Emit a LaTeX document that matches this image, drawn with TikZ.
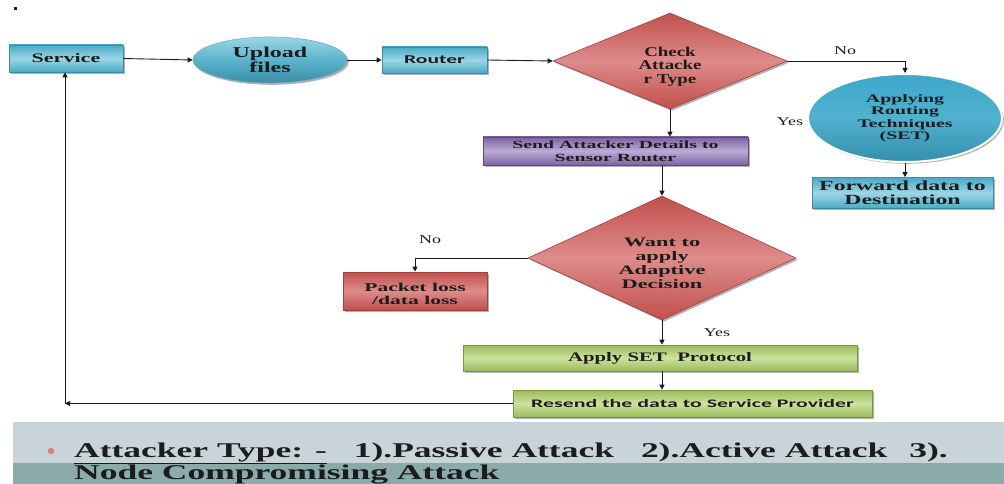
\documentclass[tikz,border=0pt]{standalone}
\usepackage{fontspec}
\setmainfont{Liberation Serif}
\newfontfamily\carl{Carlito}
\usetikzlibrary{shapes.geometric,shadows,arrows.meta,calc}
\definecolor{blueEdge}{HTML}{4AAAC5}
\definecolor{blueMid}{HTML}{9CD5E6}
\definecolor{blueDraw}{HTML}{3B8EA8}
\definecolor{appFill}{HTML}{3DA8CA}
\definecolor{redEdge}{HTML}{C0504D}
\definecolor{redMid}{HTML}{DE8C8A}
\definecolor{redDraw}{HTML}{A13F3C}
\definecolor{purEdge}{HTML}{7E62A3}
\definecolor{purMid}{HTML}{BBAAD6}
\definecolor{purDraw}{HTML}{5E4683}
\definecolor{grnEdge}{HTML}{9ABB58}
\definecolor{grnMid}{HTML}{CDE2A0}
\definecolor{grnDraw}{HTML}{7A963E}
\definecolor{bandA}{HTML}{C9D4D9}
\definecolor{bandB}{HTML}{8BABAA}
\definecolor{bulletC}{HTML}{D9807C}
\definecolor{ink}{HTML}{1C1C1C}
\newcommand\fx[3]{\fontsize{#1}{#2}\selectfont\addfontfeatures{FakeStretch=#3}}
\tikzset{
  shadowed/.style={drop shadow={shadow xshift=1.8pt,shadow yshift=-1.8pt,fill=black!60,opacity=0.5}},
  base/.style={inner sep=0pt, align=center, text=ink, line width=0.6pt, shadowed},
  bluebox/.style={base, rectangle, draw=blueDraw, top color=blueEdge, bottom color=blueEdge, middle color=blueMid},
  redbox/.style={base, rectangle, draw=redDraw, top color=redEdge, bottom color=redEdge, middle color=redMid},
  purbox/.style={base, rectangle, draw=purDraw, top color=purEdge, bottom color=purEdge, middle color=purMid},
  grnbox/.style={base, rectangle, draw=grnDraw, top color=grnEdge, bottom color=grnEdge, middle color=grnMid},
  reddiam/.style={base, diamond, aspect=2.2, draw=redDraw, top color=redEdge, bottom color=redEdge, middle color=redMid},
  arr/.style={draw=ink, line width=0.9pt, -{Triangle[length=5pt,width=5pt]}},
  lbl/.style={inner sep=0pt, text=ink, font=\fx{12}{13}{1.5}},
}
\begin{document}
\begin{tikzpicture}[x=1pt,y=-1pt]
\useasboundingbox (0,0) rectangle (1004,484);
\fill[white] (0,0) rectangle (1004,484);
% stray slide bullet
\fill[ink] (14,7) rectangle (17,10);
% nodes
\node[bluebox, minimum width=114pt, minimum height=27pt, font=\bfseries\fx{13}{14}{1.7}] (svc) at (66,58.5) {Service};
\node[base, ellipse, draw=blueDraw!70, top color=blueMid, bottom color=blueDraw, middle color=blueEdge!80!blueMid, minimum width=154pt, minimum height=46pt, font=\bfseries\fx{15}{15}{1.6}] (upl) at (270,60) {Upload\\files};
\node[bluebox, minimum width=105pt, minimum height=26pt, font=\carl\bfseries\fx{12}{13}{1.8}] (rtr) at (434.5,60) {Router};
\node[reddiam, aspect=2.4, minimum width=234pt, minimum height=96pt, font=\bfseries\fx{13.5}{13.5}{1.4}] (chk) at (670,61) {\rule{0pt}{20pt}Check\\Attacke\\r Type};
\node[purbox, minimum width=265pt, minimum height=28pt, font=\bfseries\fx{11}{13}{1.8}] (snd) at (615.5,151) {Send Attacker Details to\\Sensor Router};
\node[base, ellipse, draw=white, line width=2pt, top color=appFill, bottom color=appFill!85!black, middle color=appFill!90!white, minimum width=194pt, minimum height=88pt, font=\bfseries\fx{11.5}{12.5}{1.72}] (app) at (905,118) {Applying\\Routing\\Techniques\\(SET)};
\node[bluebox, minimum width=181pt, minimum height=31pt, font=\bfseries\fx{14}{14}{1.7}] (fwd) at (902.5,193) {Forward data to\\Destination};
\node[reddiam, aspect=2.16, minimum width=268pt, minimum height=124pt, font=\bfseries\fx{13}{14}{1.72}] (want) at (662,258) {\rule{0pt}{20pt}Want to\\apply\\Adaptive\\Decision};
\node[redbox, minimum width=144pt, minimum height=38pt, font=\bfseries\fx{12}{13}{1.8}] (pkt) at (415,291) {\rule{0pt}{15pt}Packet loss\\/data loss};
\node[grnbox, minimum width=394pt, minimum height=26pt, font=\bfseries\fx{13}{14}{1.6}] (aset) at (660,358) {Apply SET\ \ Protocol};
\node[grnbox, minimum width=359pt, minimum height=27pt, font=\carl\bfseries\fx{11.5}{13}{1.9}] (res) at (692.5,403.5) {Resend the data to Service Provider};
\coordinate (cor) at (65,403.5);
% labels
\node[lbl] (no1) at (845,51) {No};
\node[lbl] (yes1) at (790,122) {Yes};
\node[lbl] (no2) at (430,240) {No};
\node[lbl] (yes2) at (717,333) {Yes};
% connectors
\draw[arr] (svc.east) -- (upl.west);
\draw[arr] (upl.east) -- (rtr.west);
\draw[arr] (rtr.east) -- (chk.west);
\draw[arr] (chk.east) -| (app.north);
\draw[arr] (app.south) -- (app.south |- fwd.north);
\draw[arr] (chk.south) -- (chk.south |- snd.north);
\draw[arr] (want.north |- snd.south) -- (want.north);
\draw[arr] (want.west) -| (pkt.north);
\draw[arr] (want.south) -- (want.south |- aset.north);
\draw[arr] (want.south |- aset.south) -- (want.south |- res.north);
\draw[arr] (res.west) -- (cor);
\draw[arr] (cor) -- (svc.south -| cor);
% bottom band
\fill[bandA] (13,422) rectangle (1004,463);
\fill[bandB] (13,463) rectangle (1004,484);
\fill[bulletC] (51,451) circle (3.2pt);
\node[anchor=base west, inner sep=0pt, text=ink, font=\bfseries\fx{21}{21}{1.69}] (t1) at (74,457) {\underline{Attacker Type: -}\hspace{27pt}1).Passive Attack\hspace{27pt}2).Active Attack\hspace{22pt}3).};
\node[anchor=base west, inner sep=0pt, text=ink, font=\bfseries\fx{21}{21}{1.69}] (t2) at (74,479) {Node Compromising Attack};
\end{tikzpicture}
\end{document}
